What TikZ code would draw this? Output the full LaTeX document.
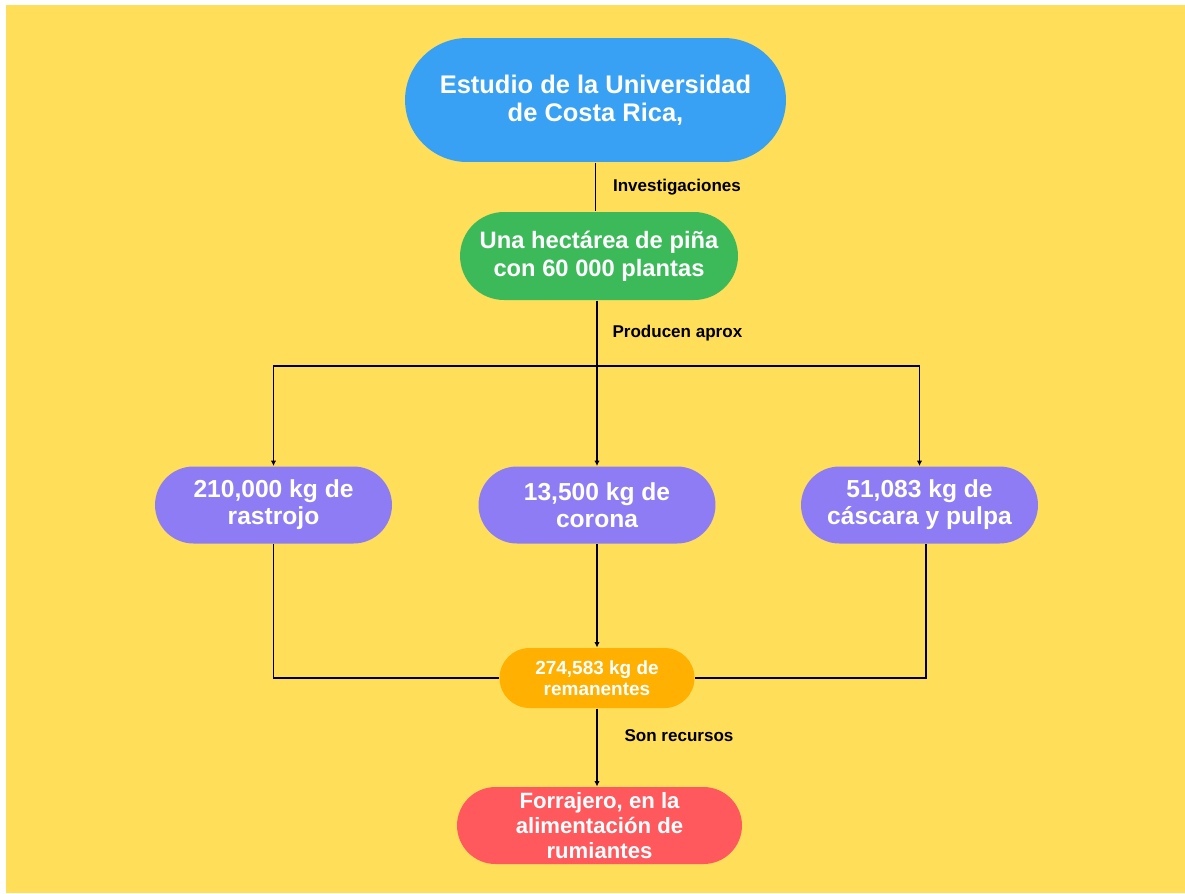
\documentclass[tikz,border=0pt]{standalone}
\usepackage{fontspec}
\setmainfont{Liberation Sans}
\usepackage{xcolor}
\usepackage{tikz}
\usetikzlibrary{positioning, shapes.misc, arrows.meta}

\definecolor{fondo}{RGB}{255,222,89}
\definecolor{azul}{RGB}{56,161,243}
\definecolor{verde}{RGB}{60,186,90}
\definecolor{morado}{RGB}{142,124,245}
\definecolor{naranja}{RGB}{255,176,0}
\definecolor{rojo}{RGB}{255,89,94}

\begin{document}
\begin{tikzpicture}[
x=0.02cm, y=-0.02cm,
line width=0.6pt,
pill/.style={rounded rectangle, text=white, align=center, inner sep=0pt},
etiqueta/.style={font=\bfseries\fontsize{9.7}{11}\selectfont, text=black, inner sep=0pt},
flecha/.style={-{Latex[length=3pt,width=3pt]}}
]
\useasboundingbox (0,0) rectangle (1185,893);
\fill[fondo] (6,5) rectangle (1185,893);

\node (estudio) at (595.5,100) [pill, fill=azul, minimum width=7.62cm, minimum height=2.48cm,
	font=\bfseries\fontsize{14.5}{16}\selectfont] {Estudio de la Universidad\\de Costa Rica,};
\node (pina) at (599,256) [pill, fill=verde, minimum width=5.56cm, minimum height=1.76cm,
	font=\bfseries\fontsize{13.5}{16}\selectfont] {Una hectárea de piña\\con 60 000 plantas};

\node (rastrojo) at (273.5,505) [pill, fill=morado, minimum width=4.74cm, minimum height=1.54cm,
	font=\bfseries\fontsize{14}{15.5}\selectfont] {210,000 kg de\\rastrojo};
\node (corona) at (597,505) [pill, fill=morado, minimum width=4.74cm, minimum height=1.54cm,
	font=\bfseries\fontsize{14}{15.5}\selectfont] {13,500 kg de\\corona};
\node (cascara) at (919.5,505) [pill, fill=morado, minimum width=4.74cm, minimum height=1.54cm,
	font=\bfseries\fontsize{14}{15.5}\selectfont] {51,083 kg de\\cáscara y pulpa};

\node (remanentes) at (597,678) [pill, fill=naranja, minimum width=3.9cm, minimum height=1.2cm,
	font=\bfseries\fontsize{10.8}{12}\selectfont] {274,583 kg de\\remanentes};
\node (forrajero) at (599.5,825.5) [pill, fill=rojo, minimum width=5.7cm, minimum height=1.54cm,
	font=\bfseries\fontsize{12.6}{14}\selectfont] {Forrajero, en la\\alimentación de\\rumiantes};

\coordinate (reparto) at (597,366);

\draw (estudio.south) -- node[etiqueta, right=0.34cm] {Investigaciones} (estudio.south |- pina.north);
\draw (pina.south -| reparto) -- node[etiqueta, right=0.3cm] {Producen aprox} (reparto);
\draw[flecha] (reparto) -| (rastrojo.north);
\draw[flecha] (reparto) -- (corona.north);
\draw[flecha] (reparto) -| (cascara.north);

\draw (rastrojo.south) |- (remanentes.west);
\draw[flecha] (corona.south) -- (remanentes.north);
\draw ([xshift=0.13cm]cascara.south) |- (remanentes.east);
\draw[flecha] (remanentes.south) -- node[etiqueta, pos=0.35, right=0.54cm] {Son recursos} (remanentes.south |- forrajero.north);
\end{tikzpicture}
\end{document}
